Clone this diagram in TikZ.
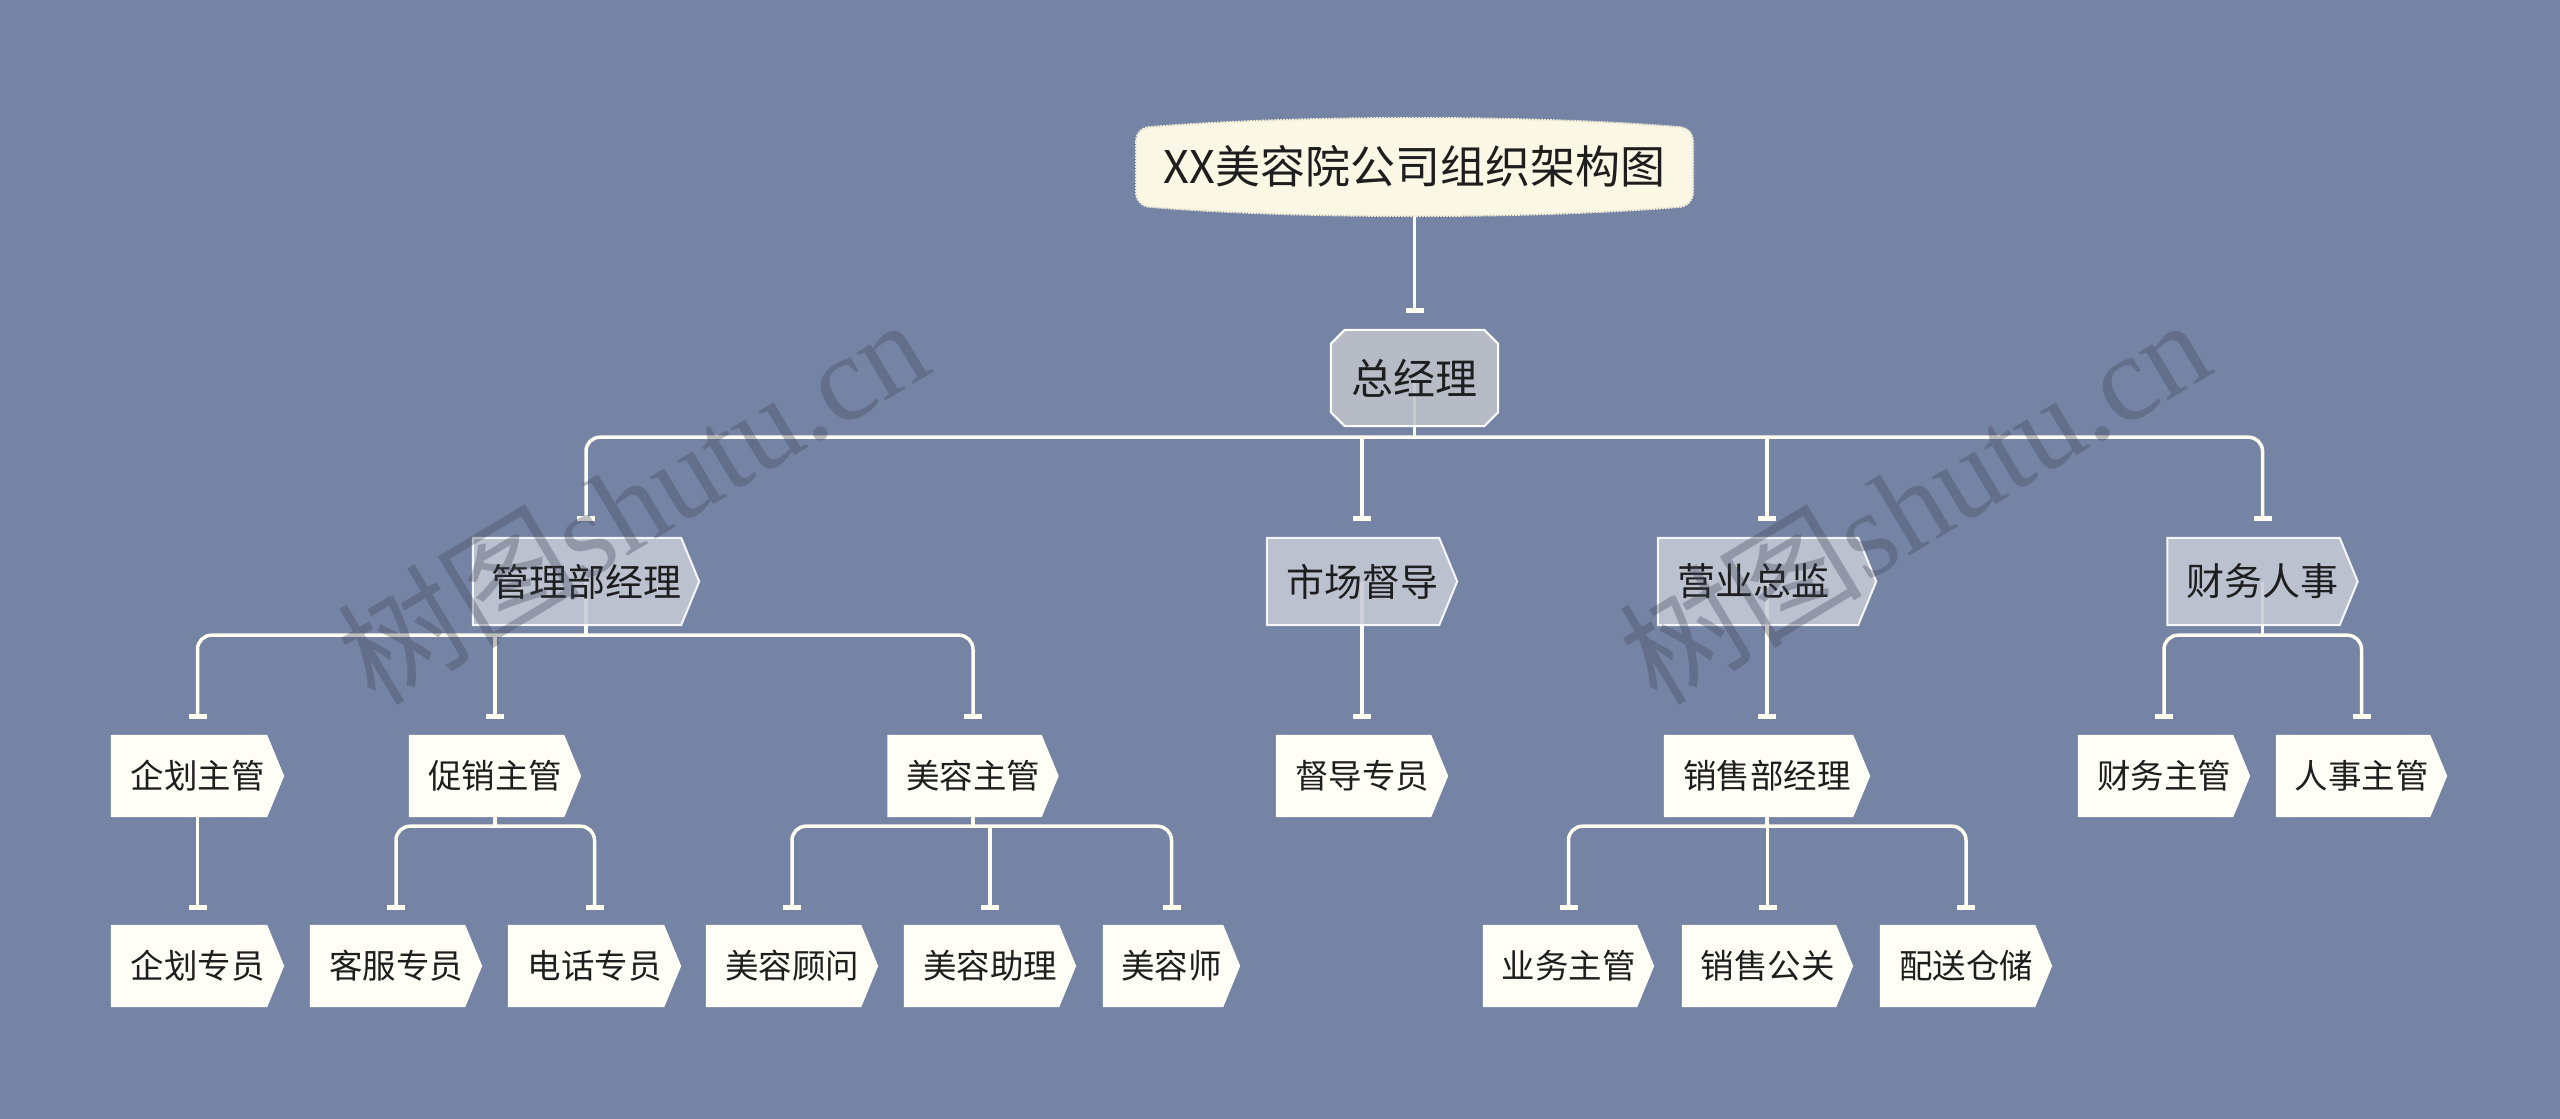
\documentclass[tikz,border=0pt]{standalone}
\usepackage{fontspec}
\setmainfont{Noto Sans CJK SC}
\newfontfamily\wmserif{Liberation Serif}
\newfontfamily\wmcjk{Noto Sans CJK SC}
\usetikzlibrary{arrows.meta,calc}
\pgfdeclarelayer{bgl}
\pgfdeclarelayer{lines}
\pgfdeclarelayer{boxes}
\pgfdeclarelayer{wm}
\pgfsetlayers{bgl,lines,boxes,main,wm}
\definecolor{bg}{HTML}{7584A4}
\definecolor{linec}{HTML}{FFFDF0}
\definecolor{leaff}{HTML}{FEFEF7}
\definecolor{lvltwof}{HTML}{C8CCD8}
\definecolor{gmf}{HTML}{C0C3CA}
\definecolor{titlef}{HTML}{FBF7E5}
\definecolor{titleb}{HTML}{EFEBD6}
\definecolor{txt}{HTML}{1E1E1E}
\definecolor{wmc}{HTML}{3E4456}
\tikzset{
  conn/.style={draw=linec, line width=3.5pt},
  tbar/.style={-{Bar[width=18pt,line width'=4.5pt]}},
  tbars/.style={{Bar[width=18pt,line width'=4.5pt]}-{Bar[width=18pt,line width'=4.5pt]}, rounded corners=14pt},
  titlenode/.style={minimum width=557pt, minimum height=82pt, inner sep=0pt, text=txt, font={\fontsize{45}{50}\selectfont}},
  gmnode/.style={minimum width=167pt, minimum height=96pt, inner sep=0pt, text=txt, font={\fontsize{42}{46}\selectfont}},
  lvtwo/.style={minimum width=#1, minimum height=87pt, inner sep=0pt, text=txt, font={\fontsize{38}{42}\selectfont}},
  leafbox/.style={minimum width=#1, minimum height=82pt, inner sep=0pt, text=txt, font={\fontsize{33.5}{38}\selectfont}},
  wmtext/.style={text=wmc, text opacity=0.33, inner sep=0pt, font={\fontsize{122}{130}\selectfont}},
}
\begin{document}
\begin{tikzpicture}[x=1pt,y=-1pt]
\begin{pgfonlayer}{bgl}
\fill[bg] (0,0) rectangle (2560,1119);
\end{pgfonlayer}
\useasboundingbox (0,0) rectangle (2560,1119);

% ---- nodes ----
\node[titlenode] (title) at (1414.5,166) {XX美容院公司组织架构图};
\node[gmnode] (gm) at (1414.5,378) {总经理};

\node[lvtwo=226pt] (glb)  at (586,581.5)  {管理部经理};
\node[lvtwo=190pt] (scdd) at (1362,581.5) {市场督导};
\node[lvtwo=218pt] (yyzj) at (1767,581.5) {营业总监\hspace*{27pt}};
\node[lvtwo=190pt] (cwrs) at (2262.5,581.5) {财务人事};

\node[leafbox=173pt] (qhzg)  at (197.5,776) {企划主管};
\node[leafbox=172pt] (cxzg)  at (495,776)   {促销主管};
\node[leafbox=171pt] (mrzg)  at (973,776)   {美容主管};
\node[leafbox=172pt] (ddzy)  at (1362,776)  {督导专员};
\node[leafbox=206pt] (xsbjl) at (1767,776)  {销售部经理};
\node[leafbox=172pt] (cwzg)  at (2164,776)  {财务主管};
\node[leafbox=171pt] (rszg)  at (2361.5,776) {人事主管};

\node[leafbox=173pt] (qhzy) at (197.5,966) {企划专员};
\node[leafbox=172pt] (kfzy) at (396,966)   {客服专员};
\node[leafbox=173pt] (dhzy) at (594.5,966) {电话专员};
\node[leafbox=172pt] (mrgw) at (792,966)   {美容顾问};
\node[leafbox=172pt] (mrzl) at (990,966)   {美容助理};
\node[leafbox=137pt] (mrs)  at (1171.5,966) {美容师};
\node[leafbox=171pt] (ywzg) at (1568.5,966) {业务主管};
\node[leafbox=171pt] (xsgg) at (1767.5,966) {销售公关};
\node[leafbox=172pt] (pscc) at (1966,966)  {配送仓储};

% ---- bus coordinates ----
\coordinate (gmb)   at ([yshift=-11pt]gm.south);
\coordinate (glbb)  at ([yshift=-10pt]glb.south);
\coordinate (cwrsb) at ([yshift=-10pt]cwrs.south);
\coordinate (cxzgb) at ([yshift=-9pt]cxzg.south);
\coordinate (mrzgb) at ([yshift=-9pt]mrzg.south);
\coordinate (xsbjlb) at ([yshift=-9pt]xsbjl.south);

% ---- shapes ----
\begin{pgfonlayer}{boxes}
  \filldraw[fill=titlef, draw=titleb, line width=2pt, densely dotted]
    (1136,142) -- (1136,192) .. controls (1136,200) and (1142,207) .. (1151,207)
    .. controls (1300,219) and (1530,219) .. (1678,207)
    .. controls (1687,207) and (1693,200) .. (1693,192) -- (1693,142)
    .. controls (1693,133) and (1687,127) .. (1678,127)
    .. controls (1530,115) and (1300,115) .. (1151,127)
    .. controls (1142,127) and (1136,133) .. (1136,142) -- cycle;
  \filldraw[fill=gmf, fill opacity=0.88, draw=white, line width=2pt]
    ([xshift=14pt]gm.north west) -- ([xshift=-14pt]gm.north east) -- ([yshift=-14pt]gm.north east)
    -- ([yshift=14pt]gm.south east) -- ([xshift=-14pt]gm.south east) -- ([xshift=14pt]gm.south west)
    -- ([yshift=14pt]gm.south west) -- ([yshift=-14pt]gm.north west) -- cycle;
  \foreach \n in {glb,scdd,yyzj,cwrs}
    \filldraw[fill=lvltwof, fill opacity=0.86, draw=white, draw opacity=0.9, line width=2pt]
      (\n.north west) -- ([xshift=-18pt]\n.north east) -- (\n.east)
      -- ([xshift=-18pt]\n.south east) -- (\n.south west) -- cycle;
  \foreach \n in {qhzg,cxzg,mrzg,ddzy,xsbjl,cwzg,rszg,qhzy,kfzy,dhzy,mrgw,mrzl,mrs,ywzg,xsgg,pscc}
    \fill[leaff]
      (\n.north west) -- ([xshift=-17pt]\n.north east) -- (\n.east)
      -- ([xshift=-17pt]\n.south east) -- (\n.south west) -- cycle;
\end{pgfonlayer}

% ---- connectors ----
\begin{pgfonlayer}{lines}
  \draw[conn,tbar] (title.center) -- ([yshift=17pt]gm.north);
  \draw[conn] (gm.center) -- (gmb);
  \draw[conn,tbars] ([yshift=17pt]glb.north) |- (gmb) -| ([yshift=17pt]cwrs.north);
  \draw[conn,tbar] (scdd |- gmb) -- ([yshift=17pt]scdd.north);
  \draw[conn,tbar] (yyzj |- gmb) -- ([yshift=17pt]yyzj.north);

  \draw[conn] (glb.center) -- (glbb);
  \draw[conn,tbars] ([yshift=16pt]qhzg.north) |- (glbb) -| ([yshift=16pt]mrzg.north);
  \draw[conn,tbar] (cxzg |- glbb) -- ([yshift=16pt]cxzg.north);

  \draw[conn,tbar] (scdd.center) -- ([yshift=16pt]ddzy.north);
  \draw[conn,tbar] (yyzj.center) -- ([yshift=16pt]xsbjl.north);

  \draw[conn] (cwrs.center) -- (cwrsb);
  \draw[conn,tbars] ([yshift=16pt]cwzg.north) |- (cwrsb) -| ([yshift=16pt]rszg.north);

  \draw[conn,tbar] (qhzg.center) -- ([yshift=15pt]qhzy.north);

  \draw[conn] (cxzg.center) -- (cxzgb);
  \draw[conn,tbars] ([yshift=15pt]kfzy.north) |- (cxzgb) -| ([yshift=15pt]dhzy.north);

  \draw[conn] (mrzg.center) -- (mrzgb);
  \draw[conn,tbars] ([yshift=15pt]mrgw.north) |- (mrzgb) -| ([yshift=15pt]mrs.north);
  \draw[conn,tbar] (mrzl |- mrzgb) -- ([yshift=15pt]mrzl.north);

  \draw[conn] (xsbjl.center) -- (xsbjlb);
  \draw[conn,tbars] ([yshift=15pt]ywzg.north) |- (xsbjlb) -| ([yshift=15pt]pscc.north);
  \draw[conn,tbar] (xsgg |- xsbjlb) -- ([yshift=15pt]xsgg.north);
\end{pgfonlayer}

% ---- watermark ----
\begin{pgfonlayer}{wm}
  \node[wmtext, anchor=base west, rotate=31] (wma) at (375,708) {{\wmcjk 树图}{\wmserif shutu.cn}};
  \node[wmtext, anchor=base west, rotate=31] (wmb) at (1657,708) {{\wmcjk 树图}{\wmserif shutu.cn}};
\end{pgfonlayer}
\end{tikzpicture}
\end{document}
